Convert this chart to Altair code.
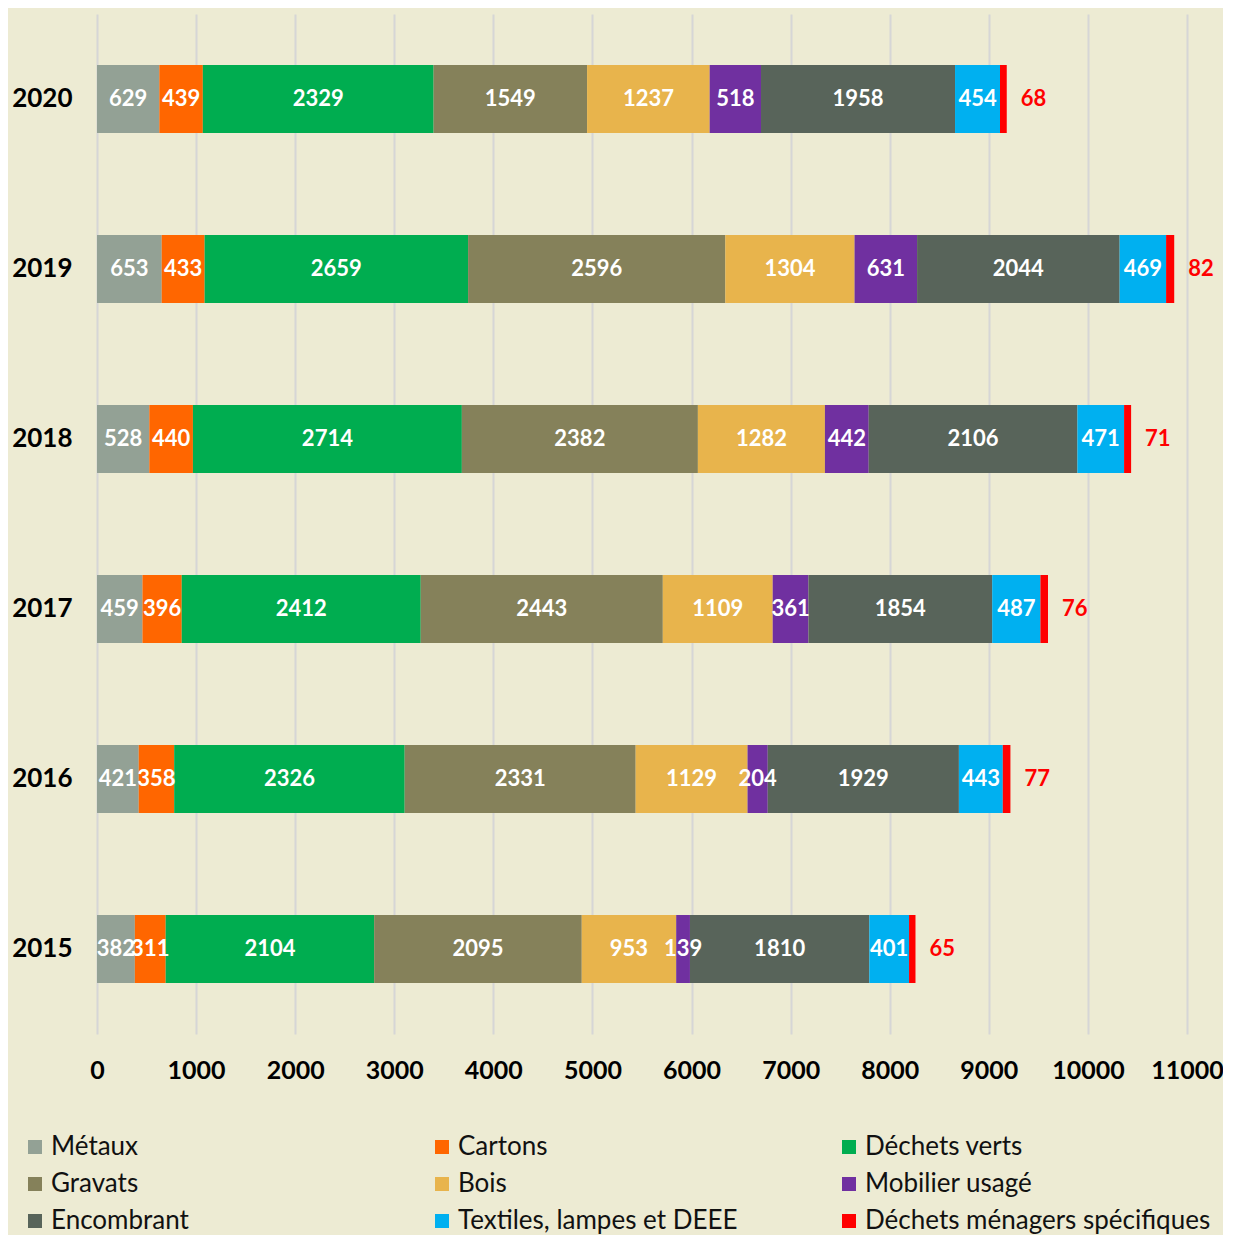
import altair as alt
import pandas as pd

years = ["2020", "2019", "2018", "2017", "2016", "2015"]
categories = ["Métaux", "Cartons", "Déchets verts", "Gravats", "Bois",
              "Mobilier usagé", "Encombrant", "Textiles, lampes et DEEE",
              "Déchets ménagers spécifiques"]
colors = ["#93A195", "#FF6600", "#00AD50", "#85815A", "#E8B44C",
          "#7030A0", "#58645A", "#00B0F0", "#FF0000"]

metaux = [629, 653, 528, 459, 421, 382]
cartons = [439, 433, 440, 396, 358, 311]
verts = [2329, 2659, 2714, 2412, 2326, 2104]
gravats = [1549, 2596, 2382, 2443, 2331, 2095]
bois = [1237, 1304, 1282, 1109, 1129, 953]
mobilier = [518, 631, 442, 361, 204, 139]
encombrant = [1958, 2044, 2106, 1854, 1929, 1810]
textiles = [454, 469, 471, 487, 443, 401]
dms = [68, 82, 71, 76, 77, 65]

series = [metaux, cartons, verts, gravats, bois, mobilier, encombrant, textiles, dms]

rows = []
for ci, (cat, vals) in enumerate(zip(categories, series)):
    for y, v in zip(years, vals):
        rows.append({"year": y, "cat": cat, "value": v, "order": ci})
df = pd.DataFrame(rows)

FONT = "Lato"

base = alt.Chart(df).transform_stack(
    stack="value", as_=["x0", "x1"], groupby=["year"],
    sort=[alt.SortField("order", order="ascending")]
).transform_calculate(mid="(datum.x0 + datum.x1) / 2")

yenc = alt.Y("year:N", sort=years, title=None,
             scale=alt.Scale(paddingInner=0.6, paddingOuter=0.3),
             axis=alt.Axis(labelFont=FONT, labelFontWeight="bold", labelFontSize=26,
                           labelColor="#000000", labelPadding=25, ticks=False,
                           domain=False, grid=False))

bars = base.mark_bar().encode(
    x=alt.X("x0:Q", title=None,
            scale=alt.Scale(domain=[0, 11000], nice=False),
            axis=alt.Axis(values=list(range(0, 11001, 1000)), labelFont=FONT,
                          labelFontWeight="bold", labelFontSize=25, labelColor="#000000",
                          labelPadding=24, ticks=False, domain=False, grid=True,
                          labelOverlap=False, labelFlush=False,
                          gridColor="#D6D6D6", gridWidth=2, format="d")),
    x2="x1:Q",
    y=yenc,
    color=alt.Color("cat:N", scale=alt.Scale(domain=categories, range=colors),
                    legend=alt.Legend(title=None, orient="none", legendX=-75, legendY=1120,
                                      direction="horizontal",
                                      columns=3, gridAlign="all", columnPadding=32,
                                      rowPadding=11, symbolType="square", symbolSize=196,
                                      symbolStrokeWidth=0, labelFont=FONT, labelFontSize=26,
                                      labelColor="#111111", labelOffset=3, padding=0,
                                      labelLimit=500)),
)

labels = base.transform_filter(alt.datum.order < 8).mark_text(
    color="white", font=FONT, fontWeight="bold", fontSize=22, baseline="middle"
).encode(x="mid:Q", y=alt.Y("year:N", sort=years), text="value:Q")

red = base.transform_filter(alt.datum.order == 8).mark_text(
    color="#FF0000", font=FONT, fontWeight="bold", fontSize=22, baseline="middle",
    align="left", dx=14
).encode(x="x1:Q", y=alt.Y("year:N", sort=years), text="value:Q")

chart = alt.layer(bars, labels, red).properties(
    width=1090, height=1020,
    background="#EDEBD3",
    padding={"left": 89, "top": 6, "right": 36, "bottom": 202},
    autosize=alt.AutoSizeParams(type="none"),
).configure_view(stroke=None)

chart.save("out.html", embed_options={"renderer": "svg", "actions": False})
